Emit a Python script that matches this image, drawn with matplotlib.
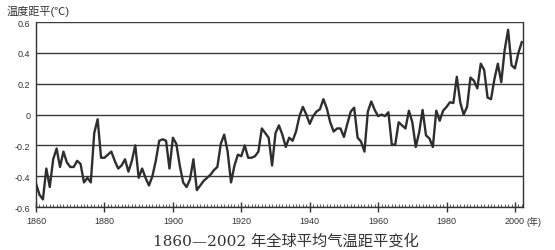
import numpy as np
import matplotlib.pyplot as plt
import matplotlib as mpl
from matplotlib.ticker import MultipleLocator

mpl.rcParams["font.family"] = ["Liberation Sans", "Noto Sans CJK SC"]

years = np.arange(1860, 2003)
anomaly = [
    -0.45, -0.52, -0.55, -0.35, -0.47, -0.29, -0.22, -0.34, -0.24, -0.31,  # 1860s
    -0.34, -0.34, -0.30, -0.32, -0.44, -0.41, -0.44, -0.12, -0.03, -0.28,  # 1870s
    -0.28, -0.26, -0.24, -0.30, -0.35, -0.33, -0.29, -0.37, -0.30, -0.20,  # 1880s
    -0.41, -0.35, -0.41, -0.46, -0.40, -0.30, -0.17, -0.16, -0.17, -0.35,  # 1890s
    -0.15, -0.19, -0.33, -0.44, -0.47, -0.42, -0.29, -0.49, -0.46, -0.43,  # 1900s
    -0.41, -0.39, -0.36, -0.34, -0.19, -0.13, -0.24, -0.44, -0.33, -0.26,  # 1910s
    -0.27, -0.20, -0.28, -0.28, -0.27, -0.24, -0.09, -0.12, -0.15, -0.33,  # 1920s
    -0.12, -0.07, -0.13, -0.21, -0.15, -0.17, -0.11, -0.01, 0.05, 0.00,    # 1930s
    -0.06, -0.01, 0.02, 0.035, 0.10, 0.04, -0.05, -0.11, -0.09, -0.09,     # 1940s
    -0.145, -0.06, 0.02, 0.045, -0.15, -0.175, -0.24, 0.02, 0.085, 0.03,   # 1950s
    -0.01, 0.00, -0.01, 0.015, -0.195, -0.195, -0.05, -0.07, -0.09, 0.025, # 1960s
    -0.05, -0.21, -0.115, 0.03, -0.135, -0.155, -0.21, 0.025, -0.04, 0.025,# 1970s
    0.05, 0.08, 0.075, 0.245, 0.08, 0.00, 0.05, 0.24, 0.22, 0.17,          # 1980s
    0.33, 0.29, 0.11, 0.10, 0.23, 0.33, 0.21, 0.42, 0.55, 0.32,            # 1990s
    0.30, 0.40, 0.47,                                                       # 2000s
]
yticks = [0.6, 0.4, 0.2, 0, -0.2, -0.4, -0.6]
ytick_labels = ["0.6", "0.4", "0.2", "0", "-0.2", "-0.4", "-0.6"]
xticks = [1860, 1880, 1900, 1920, 1940, 1960, 1980, 2000]

fig = plt.figure(figsize=(5.55, 2.51), dpi=100)
ax = fig.add_axes([0.065, 0.171, 0.877, 0.737])

for v in yticks:
    ax.axhline(v, color="#3a3a3a", lw=1.0, zorder=1)
ax.plot(years, anomaly, color="#2e2e2e", lw=1.7, zorder=3)

ax.set_xlim(1860, 2002.3)
ax.set_ylim(-0.6, 0.6)
ax.set_yticks(yticks)
ax.set_yticklabels(ytick_labels, fontsize=6.5, color="#333333")
ax.tick_params(axis="y", length=0, pad=4)
ax.set_xticks(xticks)
ax.set_xticklabels([str(x) for x in xticks], fontsize=6.5, color="#333333")
ax.xaxis.set_minor_locator(MultipleLocator(1))
ax.tick_params(axis="x", which="major", direction="inout", length=7, width=1, color="#333333", pad=3)
ax.tick_params(axis="x", which="minor", direction="in", length=2.2, width=0.6, color="#444444")

for side in ["left", "right", "bottom"]:
    ax.spines[side].set_color("#333333")
    ax.spines[side].set_linewidth(1.0)
ax.spines["top"].set_visible(False)

# unit label next to the 2000 tick label
ax.annotate("(年)", xy=(2000, -0.6), xycoords="data", xytext=(8, -6.5),
            textcoords="offset points", fontsize=6.5, color="#333333",
            ha="left", va="top")

fig.text(0.012, 0.955, "温度距平(℃)", fontsize=8, color="#333333", va="center", ha="left")
fig.text(0.515, 0.04, "1860—2002 年全球平均气温距平变化", fontsize=11, color="#333333",
         va="center", ha="center", family=["DejaVu Serif", "Noto Sans CJK SC"])

fig.savefig("out.png", dpi=100)
